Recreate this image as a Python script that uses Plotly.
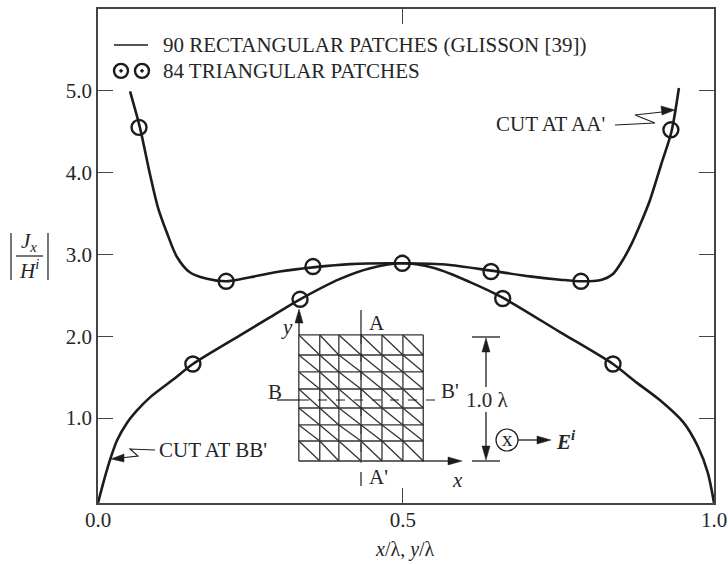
import plotly.graph_objects as go

aa_x = [.052,.068,.084,.097,.112,.128,.149,.177,.208,.247,.295,.349,.409,.494,.571,.638,.701,.750,.784,.818,.836,.852,.867,.880,.896,.914,.931,.943]
aa_y = [4.99,4.55,3.99,3.58,3.26,2.97,2.78,2.70,2.67,2.72,2.79,2.84,2.88,2.89,2.87,2.80,2.73,2.69,2.67,2.69,2.76,2.93,3.14,3.36,3.66,4.09,4.5,5.03]
bb_x = [0,.0097,.0195,.031,.047,.063,.084,.122,.154,.2305,.279,.328,.393,.442,.494,.547,.604,.657,.75,.836,.875,.912,.950,.974,.990,1]
bb_y = [-.035,.24,.49,.73,.94,1.09,1.25,1.47,1.66,2.01,2.23,2.45,2.70,2.83,2.89,2.83,2.66,2.47,2.05,1.66,1.43,1.22,.95,.65,.33,-.035]
tri_x = [.0666,.208,.349,.494,.638,.784,.930,.154,.328,.657,.836]
tri_y = [4.55,2.67,2.85,2.89,2.79,2.67,4.52,1.66,2.45,2.46,1.66]
legend_marker_x = [.0373,.0714]
legend_marker_y = [5.24,5.24]
mesh_x = [.326,.360,.391,.427,.461,.495,.528]
mesh_y = [2.015,1.77,1.563,1.355,1.123,.916,.72,.476]
x_tick_vals = [0,.495,1]
x_tick_text = ["0.0","0.5","1.0"]
y_tick_vals = [1,2,3,4,5]
y_tick_text = ["1.0","2.0","3.0","4.0","5.0"]

INK = "#1c1c1c"
FRAME = "#444444"
TEXT = "#262626"
FS = 21
W, H = 728, 564
L, R, T, B = 98, 714, 9, 503

def px(x): return (x - L) / (R - L)
def py(y): return (B - y) / (B - T)

shapes = []
def seg(x0, y0, x1, y1, w=1.3, dash=None, color=INK):
    shapes.append(dict(type="line", xref="paper", yref="paper", x0=px(x0), y0=py(y0), x1=px(x1), y1=py(y1),
                       line=dict(color=color, width=w, dash=dash)))
def poly(pts, fill=None, w=1.2):
    d = "M " + " L ".join(f"{px(a):.5f},{py(b):.5f}" for a, b in pts)
    if fill:
        d += " Z"
    shapes.append(dict(type="path", xref="paper", yref="paper", path=d, fillcolor=fill,
                       line=dict(color=INK, width=w if not fill else 0.5)))

# legend line
seg(114, 45, 148, 45, 1.3)
# inset axes
seg(299, 335, 299, 312, 1.3); poly([(299,309),(295,323),(303,323)], INK)
seg(423, 461, 450, 461, 1.3); poly([(462,461),(448,457),(448,465)], INK)
# A-A' and B-B' cuts
seg(361, 310, 361, 335, 1.2); seg(361, 335, 361, 463, 0.8, "dash")
seg(361, 472, 361, 486, 1.2)
seg(277, 400, 300, 400, 1.2); seg(300, 400, 443, 400, 1, "dash")
# dimension
seg(472, 337, 500, 337, 1.3); seg(472, 461, 500, 461, 1.3)
seg(486, 350, 486, 387, 1.3); seg(486, 412, 486, 448, 1.3)
poly([(486,338),(482,352),(490,352)], INK); poly([(486,460),(482,446),(490,446)], INK)
# E^i
shapes.append(dict(type="circle", xref="paper", yref="paper", x0=px(496), x1=px(518), y0=py(451), y1=py(429),
                   line=dict(color=INK, width=1.2)))
seg(518, 440, 537, 440, 1.3); poly([(551,440),(537,436),(537,444)], INK)
# leaders
poly([(615,125),(655,123),(635,115),(662,112)], None, 1.1)
poly([(675,110),(661,106),(662,115)], INK)
poly([(155,450),(130,449),(138,456),(120,458)], None, 1.1)
poly([(111,459),(124,454),(124,462)], INK)
# |J/H| bars and fraction
seg(11, 233, 11, 280, 1.2); seg(48, 233, 48, 280, 1.2); seg(16, 256, 43, 256, 1.2)

ann = []
def text(x, y, s, anchor="left", size=FS):
    ann.append(dict(xref="paper", yref="paper", x=px(x), y=py(y), text=s, showarrow=False, xanchor=anchor,
                    yanchor="middle", font=dict(family="Liberation Serif", size=size, color=TEXT)))
text(161, 45, "90 RECTANGULAR PATCHES (GLISSON [39])")
text(161, 71, "84 TRIANGULAR PATCHES")
text(494, 124, "CUT AT AA'")
text(157, 450, "CUT AT BB'")
text(367, 323, "A"); text(367, 477, "A'")
text(266, 392, "B"); text(439, 391, "B'")
text(279, 327, "<i>y</i>"); text(450, 480, "<i>x</i>")
text(464, 400, "1.0 λ")
text(507, 439, "x", "center")
text(554, 440, "<b><i>E<sup>i</sup></i></b>")
text(29, 242, "<i>J<sub>x</sub></i>", "center")
text(29, 270, "<i>H<sup>i</sup></i>", "center")
text(405, 549, "<i>x</i>/λ, <i>y</i>/λ", "center", 20)

mx, my = [], []
for v in mesh_x:
    mx += [v, v, None]; my += [mesh_y[0], mesh_y[-1], None]
for v in mesh_y:
    mx += [mesh_x[0], mesh_x[-1], None]; my += [v, v, None]
for i in range(len(mesh_x) - 1):
    for j in range(len(mesh_y) - 1):
        mx += [mesh_x[i], mesh_x[i + 1], None]; my += [mesh_y[j], mesh_y[j + 1], None]

fig = go.Figure()
fig.add_trace(go.Scatter(x=mx, y=my, mode="lines", line=dict(color="#333333", width=1.3)))
fig.add_trace(go.Scatter(x=aa_x, y=aa_y, mode="lines", line=dict(color=INK, width=2.6, shape="spline", smoothing=0.8)))
fig.add_trace(go.Scatter(x=bb_x, y=bb_y, mode="lines", line=dict(color=INK, width=2.6, shape="spline", smoothing=0.8), cliponaxis=False))
fig.add_trace(go.Scatter(x=tri_x, y=tri_y, mode="markers", marker=dict(symbol="circle-open", size=15, color=INK, line=dict(color=INK, width=2.4))))
fig.add_trace(go.Scatter(x=legend_marker_x, y=legend_marker_y, mode="markers",
                         marker=dict(symbol="circle-open-dot", size=14, color=INK, line=dict(color=INK, width=2.4))))

axis = dict(showgrid=False, zeroline=False, showline=True, linecolor=FRAME, linewidth=1.6, mirror="allticks",
            ticks="inside", ticklen=15, tickcolor=FRAME, tickwidth=1.4,
            tickfont=dict(family="Liberation Serif", size=FS, color=TEXT))
fig.update_layout(width=W, height=H, margin=dict(l=L, r=W - R, t=T, b=H - B, autoexpand=False),
                  paper_bgcolor="white", plot_bgcolor="white", showlegend=False,
                  shapes=shapes, annotations=ann,
                  xaxis=dict(axis, range=[0, 1], tickmode="array", tickvals=x_tick_vals, ticktext=x_tick_text, ticklabelstandoff=-3),
                  yaxis=dict(axis, range=[-.037, 5.995], tickmode="array", tickvals=y_tick_vals, ticktext=y_tick_text))
fig.write_html("out.html", config={"displayModeBar": False},
               post_script="document.body.style.margin='0';document.documentElement.style.overflow='hidden';")
